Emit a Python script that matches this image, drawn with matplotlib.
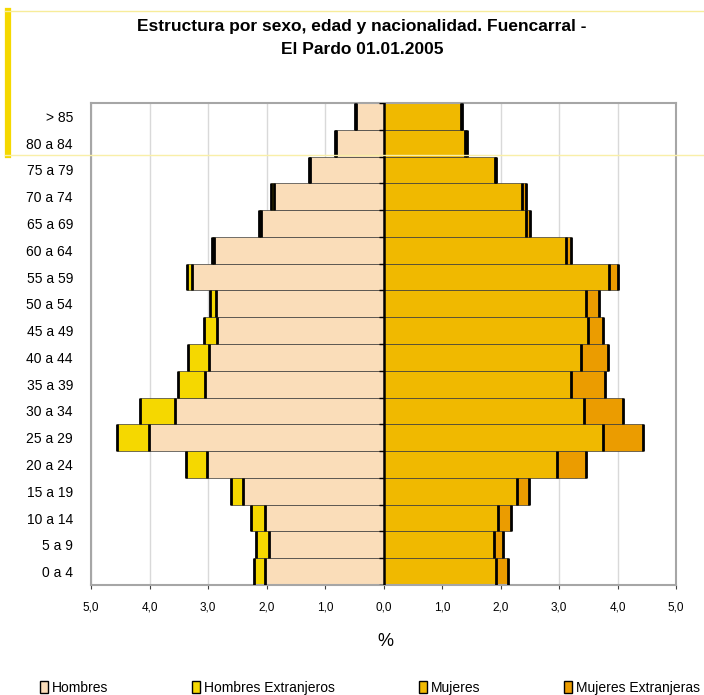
import matplotlib
matplotlib.use("Agg")
import matplotlib.pyplot as plt
from matplotlib.patches import Patch
from matplotlib.lines import Line2D
import numpy as np

plt.rcParams['font.family'] = ['Liberation Sans', 'DejaVu Sans']

# Age groups, bottom to top
groups = ["0 a 4", "5 a 9", "10 a 14", "15 a 19", "20 a 24", "25 a 29", "30 a 34",
          "35 a 39", "40 a 44", "45 a 49", "50 a 54", "55 a 59", "60 a 64",
          "65 a 69", "70 a 74", "75 a 79", "80 a 84", "> 85"]

hombres = [2.03, 1.96, 2.03, 2.41, 3.02, 4.01, 3.57, 3.05, 2.99, 2.84, 2.86, 3.27,
           2.89, 2.10, 1.88, 1.26, 0.82, 0.47]
hombres_ext = [0.19, 0.22, 0.23, 0.19, 0.36, 0.54, 0.60, 0.47, 0.35, 0.23, 0.11, 0.09,
               0.05, 0.03, 0.04, 0.01, 0.01, 0.01]
mujeres = [1.92, 1.89, 1.95, 2.29, 2.97, 3.76, 3.42, 3.21, 3.38, 3.49, 3.46, 3.86,
           3.12, 2.43, 2.37, 1.90, 1.40, 1.33]
mujeres_ext = [0.20, 0.16, 0.23, 0.20, 0.49, 0.68, 0.68, 0.58, 0.45, 0.27, 0.23, 0.14,
               0.09, 0.07, 0.06, 0.02, 0.02, 0.02]

xticks = [-5, -4, -3, -2, -1, 0, 1, 2, 3, 4, 5]

c_h = '#FADDB9'
c_he = '#F5D800'
c_m = '#F0B900'
c_me = '#EB9C00'

fig = plt.figure(figsize=(7.04, 6.95), dpi=100)
ax = fig.add_axes([91/704, 1-585/695, (676-91)/704, (585-103)/695])

y = np.arange(len(groups))
h = np.array(hombres)
he = np.array(hombres_ext)
m = np.array(mujeres)
me = np.array(mujeres_ext)

ax.set_axisbelow(True)
ax.grid(axis='x', color='#D9D9D9', lw=1.0)

kw = dict(height=1.0, edgecolor='#3a3a3a', linewidth=0.5, zorder=2)
ax.barh(y, -h, color=c_h, **kw)
ax.barh(y, -he, left=-h, color=c_he, **kw)
ax.barh(y, m, color=c_m, **kw)
ax.barh(y, me, left=m, color=c_me, **kw)

# thick dark strips at the outer end of each segment (shadow effect)
sw = 2.0
ax.vlines(-h, y-0.5, y+0.5, color='black', lw=sw, zorder=3)
ax.vlines(-(h+he), y-0.5, y+0.5, color='black', lw=sw, zorder=3)
ax.vlines(m, y-0.5, y+0.5, color='black', lw=sw, zorder=3)
ax.vlines(m+me, y-0.5, y+0.5, color='black', lw=sw, zorder=3)

# central axis with small ticks
ax.axvline(0, color='black', lw=1.8, zorder=4)
ax.hlines(np.arange(len(groups)+1)-0.5, -0.08, 0, color='black', lw=1.0, zorder=4)

ax.set_xlim(-5, 5)
ax.set_ylim(-0.5, len(groups)-0.5)
ax.set_xticks(xticks)
ax.set_xticklabels([f"{abs(v):.1f}".replace('.', ',') for v in xticks], fontsize=8.5)
ax.tick_params(axis='x', direction='out', length=3, color='#404040', pad=9)
ax.set_yticks(y)
ax.set_yticklabels(groups, fontsize=10)
ax.tick_params(axis='y', length=0, pad=13)

for s in ax.spines.values():
    s.set_color('#A6A6A6')
    s.set_linewidth(1.5)

fig.text(385/704, 1-641/695, '%', ha='center', va='center', fontsize=13)

fig.text(362/704, 1-26/695, 'Estructura por sexo, edad y nacionalidad. Fuencarral -',
         ha='center', va='center', fontsize=12.5, fontweight='bold')
fig.text(362/704, 1-50/695, 'El Pardo 01.01.2005',
         ha='center', va='center', fontsize=12.5, fontweight='bold')

handles = [Patch(facecolor=c, edgecolor='black', linewidth=1.0) for c in (c_h, c_he, c_m, c_me)]
labels = ['Hombres', 'Hombres Extranjeros', 'Mujeres', 'Mujeres Extranjeras']
fig.legend(handles, labels, loc='center', bbox_to_anchor=(370/704, 1-688/695), ncol=4,
           frameon=False, fontsize=10, handlelength=0.6, handleheight=0.9,
           handletextpad=0.3, columnspacing=6.0)

# decorative yellow marks
fig.add_artist(Line2D([8/704, 8/704], [1-11/695, 1-155/695], color='#F5D800', lw=4.5))
fig.add_artist(Line2D([5/704, 1.0], [1-11/695, 1-11/695], color='#F7EC9A', lw=1.0))
fig.add_artist(Line2D([5/704, 1.0], [1-155/695, 1-155/695], color='#F9EFA8', lw=1.0))

fig.savefig('out.png', dpi=100)
